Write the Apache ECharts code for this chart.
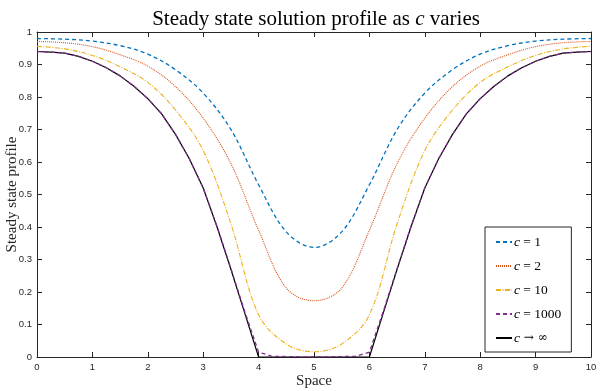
<!DOCTYPE html>
<html>
<head>
<meta charset="utf-8">
<script src="https://cdn.jsdelivr.net/npm/echarts@6/dist/echarts.min.js"></script>
<style>
  html, body { margin: 0; padding: 0; background: #fff; }
  #chart { width: 613px; height: 391px; }
</style>
</head>
<body>
<div id="chart"></div>
<script>
// x positions for the smooth curves (step 0.5)
var xCoarse = [0, 0.5, 1, 1.5, 2, 2.5, 3, 3.5, 4, 4.5, 5,
  5.5, 6, 6.5, 7, 7.5, 8, 8.5, 9, 9.5, 10];
var c1 = [0.980, 0.978, 0.972, 0.958, 0.932, 0.884, 0.812, 0.700, 0.530, 0.385, 0.337,
  0.385, 0.530, 0.700, 0.812, 0.884, 0.932, 0.958, 0.972, 0.978, 0.980];
var c2 = [0.971, 0.967, 0.955, 0.930, 0.895, 0.832, 0.735, 0.595, 0.390, 0.212, 0.173,
  0.212, 0.390, 0.595, 0.735, 0.832, 0.895, 0.930, 0.955, 0.967, 0.971];
var c10 = [0.956, 0.948, 0.928, 0.893, 0.845, 0.760, 0.635, 0.410, 0.130, 0.040, 0.016,
  0.040, 0.130, 0.410, 0.635, 0.760, 0.845, 0.893, 0.928, 0.948, 0.956];

// x positions for the sharp curves (step 0.25)
var xFine = [0, 0.25, 0.5, 0.75, 1, 1.25, 1.5, 1.75, 2, 2.25, 2.5, 2.75, 3, 3.25, 3.5, 3.75, 4, 4.25,
  5, 5.75, 6, 6.25, 6.5, 6.75, 7, 7.25, 7.5, 7.75, 8, 8.25, 8.5, 8.75, 9, 9.25, 9.5, 9.75, 10];
var c1000 = [0.940, 0.938, 0.935, 0.925, 0.910, 0.890, 0.865, 0.833, 0.795, 0.748, 0.685, 0.610, 0.520, 0.402, 0.272, 0.140, 0.015, 0.002,
  0, 0.002, 0.015, 0.140, 0.272, 0.402, 0.520, 0.610, 0.685, 0.748, 0.795, 0.833, 0.865, 0.890, 0.910, 0.925, 0.935, 0.938, 0.940];
var cInf = [0.940, 0.938, 0.935, 0.925, 0.910, 0.890, 0.865, 0.833, 0.795, 0.748, 0.685, 0.610, 0.520, 0.400, 0.270, 0.135, 0, 0,
  0, 0, 0, 0.135, 0.270, 0.400, 0.520, 0.610, 0.685, 0.748, 0.795, 0.833, 0.865, 0.890, 0.910, 0.925, 0.935, 0.938, 0.940];

var names = ['c = 1', 'c = 2', 'c = 10', 'c = 1000', 'c \u2192 \u221e'];

function pairs(xs, ys) {
  return xs.map(function (x, i) { return [x, ys[i]]; });
}

var serif = 'Liberation Serif';
var axisColor = '#262626';

var myChart = echarts.init(document.getElementById('chart'));

function xAxisDef(pos, showLabel) {
  return {
    type: 'value', min: 0, max: 10, interval: 1, position: pos,
    axisLine: { show: true, onZero: false, lineStyle: { color: axisColor, width: 1 } },
    axisTick: { show: true, inside: true, length: 5, lineStyle: { color: axisColor } },
    axisLabel: { show: showLabel, fontSize: 9.5, color: axisColor, fontFamily: 'Liberation Sans', margin: 5 },
    splitLine: { show: false },
    name: showLabel ? 'Space' : '',
    nameLocation: 'middle', nameGap: 17, nameMoveOverlap: false,
    nameTextStyle: { fontFamily: serif, fontSize: 15, color: axisColor, verticalAlign: 'top' }
  };
}
function yAxisDef(pos, showLabel) {
  return {
    type: 'value', min: 0, max: 1, interval: 0.1, position: pos,
    axisLine: { show: true, onZero: false, lineStyle: { color: axisColor, width: 1 } },
    axisTick: { show: true, inside: true, length: 5, lineStyle: { color: axisColor } },
    axisLabel: { show: showLabel, fontSize: 9.5, color: axisColor, fontFamily: 'Liberation Sans', margin: 5 },
    splitLine: { show: false },
    name: showLabel ? 'Steady state profile' : '',
    nameLocation: 'middle', nameGap: 17, nameMoveOverlap: false,
    nameTextStyle: { fontFamily: serif, fontSize: 15, color: axisColor }
  };
}

var option = {
  animation: false,
  title: {
    text: '{n|Steady state solution profile as }{i|c}{n| varies}',
    left: 311, top: 4, textAlign: 'center',
    textStyle: {
      fontWeight: 'normal',
      rich: {
        n: { fontFamily: serif, fontSize: 21, fontWeight: 'normal', color: '#000' },
        i: { fontFamily: serif, fontSize: 21, fontWeight: 'normal', fontStyle: 'italic', color: '#000' }
      }
    }
  },
  grid: { left: 37, right: 22, top: 32, bottom: 34, containLabel: false, outerBoundsMode: 'none' },
  legend: {
    data: names,
    orient: 'vertical',
    left: 485, top: 227,
    itemWidth: 16, itemHeight: 10, itemGap: 10,
    padding: [8, 10, 7, 10],
    borderColor: axisColor, borderWidth: 1,
    backgroundColor: '#fff',
    itemStyle: { color: 'rgba(0,0,0,0)', borderWidth: 0 },
    formatter: function (name) {
      var rest = name.substring(1);
      if (rest.indexOf('\u2192') >= 0) {
        return '{i|c}{a| \u2192 \u221e}';
      }
      return '{i|c}{n|' + rest + '}';
    },
    textStyle: {
      padding: [0, 0, 0, -3],
      rich: {
        i: { fontFamily: serif, fontSize: 13.5, fontStyle: 'italic', color: '#000' },
        n: { fontFamily: serif, fontSize: 13.5, color: '#000' },
        a: { fontFamily: 'DejaVu Serif', fontSize: 12, color: '#000' }
      }
    }
  },
  xAxis: [xAxisDef('bottom', true), xAxisDef('top', false)],
  yAxis: [yAxisDef('left', true), yAxisDef('right', false)],
  series: [
    {
      name: names[0], type: 'line', data: pairs(xCoarse, c1), smooth: 0.35,
      symbol: 'none', color: '#0072BD',
      lineStyle: { width: 1.3, type: [4, 3], color: '#0072BD' }
    },
    {
      name: names[1], type: 'line', data: pairs(xCoarse, c2), smooth: 0.35,
      symbol: 'none', color: '#D95319',
      lineStyle: { width: 1.1, type: [1, 1], color: '#D95319' }
    },
    {
      name: names[2], type: 'line', data: pairs(xCoarse, c10), smooth: 0.35,
      symbol: 'none', color: '#EDB120',
      lineStyle: { width: 1.1, type: [5, 1.5, 1, 1.5], color: '#EDB120' }
    },
    {
      name: names[3], type: 'line', data: pairs(xFine, c1000), smooth: false,
      symbol: 'none', color: '#7E2F8E', z: 3,
      lineStyle: { width: 1.3, type: [4, 3], color: '#7E2F8E' }
    },
    {
      name: names[4], type: 'line', data: pairs(xFine, cInf), smooth: false,
      symbol: 'none', color: '#000', z: 2,
      lineStyle: { width: 1.2, type: 'solid', color: '#000' }
    }
  ]
};

option && myChart.setOption(option);
</script>
</body>
</html>
